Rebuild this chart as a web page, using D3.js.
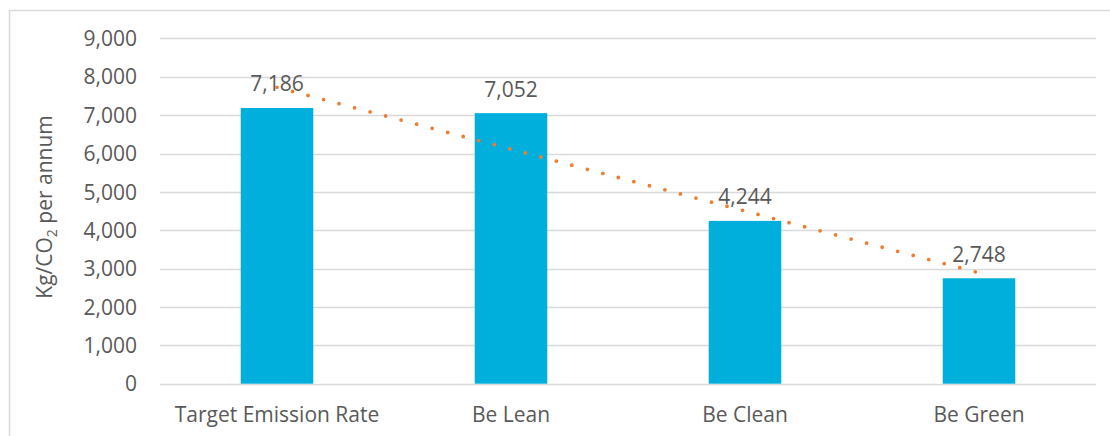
<!DOCTYPE html>
<html>
<head>
<meta charset="utf-8">
<script src="https://cdn.jsdelivr.net/npm/d3@7"></script>
<style>
  html, body { margin: 0; padding: 0; background: #fff; }
  svg { display: block; }
  text { font-family: "Open Sans", sans-serif; fill: #595959; }
</style>
</head>
<body>
<svg id="chart" width="1110" height="436"></svg>
<script>
// Annual carbon emissions by energy hierarchy stage
const categories = ["Target Emission Rate", "Be Lean", "Be Clean", "Be Green"];
const emissions = [7186, 7052, 4244, 2748];
const yTicks = [0, 1000, 2000, 3000, 4000, 5000, 6000, 7000, 8000, 9000];

const W = 1110, H = 436;
const margin = { left: 160, right: 14, top: 38.4, bottom: 52.3 };
const FS = 21;
const svg = d3.select("#chart");

// chart frame
svg.append("rect")
  .attr("x", 9.5).attr("y", 10.5)
  .attr("width", W + 20).attr("height", H + 20)
  .attr("fill", "none").attr("stroke", "#D9D9D9").attr("stroke-width", 1.5);

const x = d3.scaleBand()
  .domain(categories)
  .range([margin.left, W - margin.right])
  .paddingInner(0.69)
  .paddingOuter(0.345);

const y = d3.scaleLinear()
  .domain([0, 9000])
  .range([H - margin.bottom, margin.top]);

// gridlines
svg.append("g")
  .selectAll("line")
  .data(yTicks)
  .join("line")
  .attr("x1", margin.left).attr("x2", W - margin.right)
  .attr("y1", d => Math.round(y(d)) + 0.5).attr("y2", d => Math.round(y(d)) + 0.5)
  .attr("stroke", "#D9D9D9").attr("stroke-width", 1.5);

// y axis labels
const yAxis = d3.axisLeft(y).tickValues(yTicks).tickFormat(d3.format(",")).tickSize(0).tickPadding(0);
const gy = svg.append("g").attr("transform", `translate(137,0)`).call(yAxis);
gy.select(".domain").remove();
gy.selectAll("text")
  .attr("font-size", FS).attr("fill", "#595959")
  .attr("font-family", "'Open Sans', sans-serif")
  .attr("dy", "0.34em");

// x axis labels
const xAxis = d3.axisBottom(x).tickSize(0).tickPadding(0);
const gx = svg.append("g").attr("transform", `translate(0,${H - margin.bottom})`).call(xAxis);
gx.select(".domain").remove();
gx.selectAll("text")
  .attr("font-size", FS).attr("fill", "#595959")
  .attr("font-family", "'Open Sans', sans-serif")
  .attr("y", 0).attr("dy", 38.5);

// axis title with subscript
const title = svg.append("text")
  .attr("transform", `translate(52,207) rotate(-90)`)
  .attr("text-anchor", "middle")
  .attr("font-size", FS);
title.append("tspan").text("Kg/CO");
title.append("tspan").attr("font-size", 14).attr("dy", 5).text("2");
title.append("tspan").attr("dy", -5).text(" per annum");

// bars
svg.append("g")
  .selectAll("rect")
  .data(emissions)
  .join("rect")
  .attr("x", (d, i) => x(categories[i]))
  .attr("width", x.bandwidth())
  .attr("y", d => y(d))
  .attr("height", d => y(0) - y(d))
  .attr("fill", "#00AFDB");

// value labels
svg.append("g")
  .selectAll("text")
  .data(emissions)
  .join("text")
  .attr("x", (d, i) => x(categories[i]) + x.bandwidth() / 2)
  .attr("y", d => y(d) - 16.5)
  .attr("text-anchor", "middle")
  .attr("font-size", FS)
  .text(d3.format(","));

// linear trendline (least squares over category index)
const idx = emissions.map((d, i) => i + 1);
const mx = d3.mean(idx), my = d3.mean(emissions);
const slope = d3.sum(idx, (v, i) => (v - mx) * (emissions[i] - my)) / d3.sum(idx, v => (v - mx) ** 2);
const intercept = my - slope * mx;
const trend = idx.map((v, i) => ({ cat: categories[i], value: intercept + slope * v }));
const ends = [trend[0], trend[trend.length - 1]];

svg.append("path")
  .datum(ends)
  .attr("d", d3.line()
    .x(d => x(d.cat) + x.bandwidth() / 2)
    .y(d => y(d.value)))
  .attr("fill", "none")
  .attr("stroke", "#ED7D31")
  .attr("stroke-width", 3.8)
  .attr("stroke-linecap", "round")
  .attr("stroke-dasharray", "0 16.05");
</script>
</body>
</html>
